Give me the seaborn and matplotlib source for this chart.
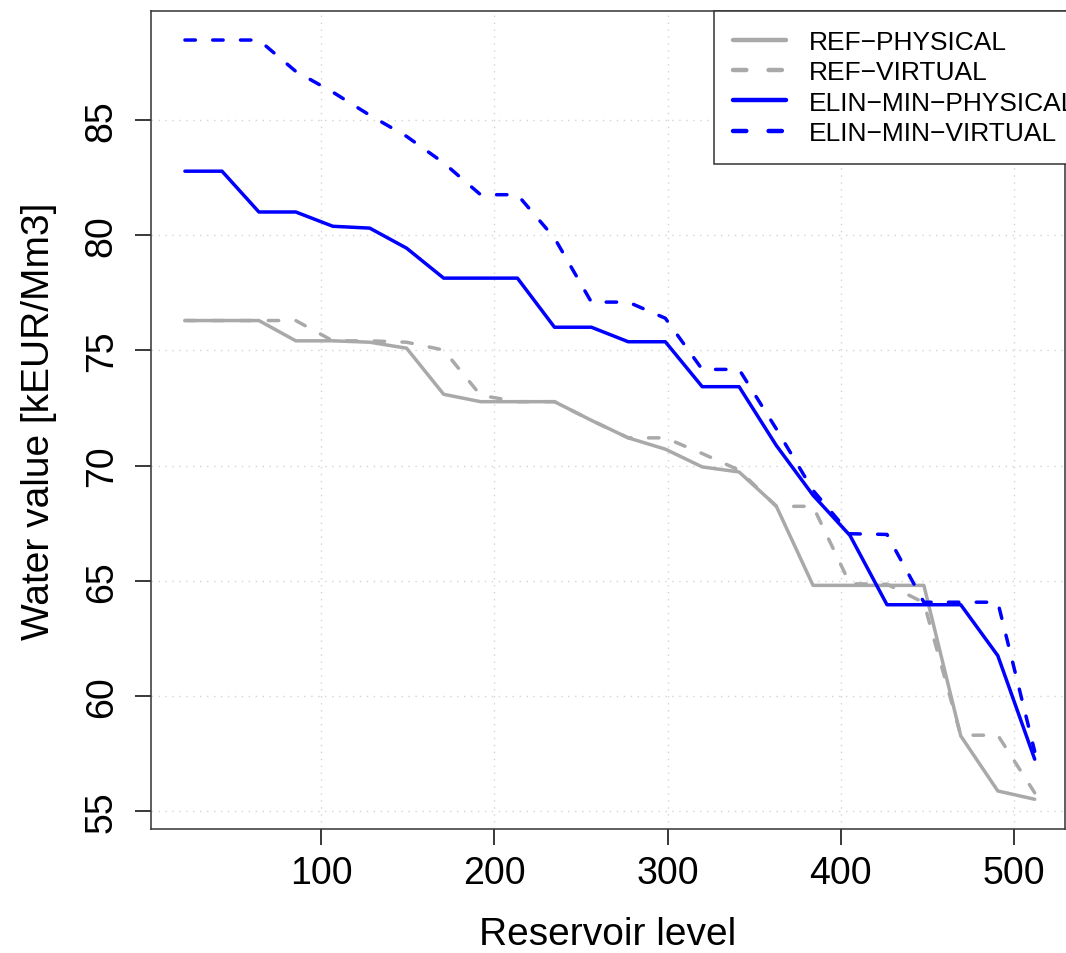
import pandas as pd
import numpy as np
import matplotlib
matplotlib.use("Agg")
import matplotlib.pyplot as plt
import seaborn as sns

## data ##
levels = [21.3, 42.7, 64.0, 85.3, 106.7, 128.0, 149.3, 170.7, 192.0, 213.3, 234.7, 256.0,
          277.3, 298.7, 320.0, 341.3, 362.7, 384.0, 405.3, 426.7, 448.0, 469.3, 490.7, 512.0]

ref_physical = [76.29, 76.29, 76.29, 75.41, 75.41, 75.35, 75.09, 73.09, 72.77, 72.77, 72.77, 71.96,
                71.20, 70.71, 69.94, 69.72, 68.25, 64.80, 64.80, 64.80, 64.80, 58.27, 55.88, 55.52]
ref_virtual = [76.29, 76.29, 76.29, 76.29, 75.41, 75.41, 75.35, 75.01, 73.05, 72.77, 72.77, 71.96,
               71.20, 71.20, 70.52, 69.80, 68.23, 68.23, 64.87, 64.85, 64.05, 58.30, 58.30, 55.80]
elin_physical = [82.77, 82.77, 81.00, 81.00, 80.38, 80.30, 79.43, 78.13, 78.13, 78.13, 76.00, 76.00,
                 75.37, 75.37, 73.42, 73.42, 70.88, 68.71, 66.97, 63.96, 63.96, 63.96, 61.75, 57.26]
elin_virtual = [88.46, 88.46, 88.46, 87.10, 86.20, 85.20, 84.28, 83.13, 81.75, 81.75, 79.87, 77.09,
                77.09, 76.39, 74.17, 74.17, 71.60, 68.92, 67.04, 67.01, 64.07, 64.07, 64.07, 57.60]

# R draws the hyphen as a minus sign
series_names = ["REF\u2212PHYSICAL", "REF\u2212VIRTUAL", "ELIN\u2212MIN\u2212PHYSICAL", "ELIN\u2212MIN\u2212VIRTUAL"]
series_values = [ref_physical, ref_virtual, elin_physical, elin_virtual]
series_colors = ["#A9A9A9", "#A9A9A9", "#0000FF", "#0000FF"]
series_dashed = [False, True, False, True]

x_ticks = [100, 200, 300, 400, 500]
y_ticks = [55, 60, 65, 70, 75, 80, 85]

sns.set_style("ticks")
plt.rcParams['font.family'] = ['Liberation Sans', 'DejaVu Sans']
plt.rcParams['text.color'] = 'black'
plt.rcParams['axes.labelcolor'] = 'black'
plt.rcParams['xtick.color'] = '#333333'
plt.rcParams['ytick.color'] = '#333333'
plt.rcParams['xtick.labelcolor'] = 'black'
plt.rcParams['ytick.labelcolor'] = 'black'
plt.rcParams['xtick.labelsize'] = 27
plt.rcParams['ytick.labelsize'] = 27
plt.rcParams['xtick.major.size'] = 11.5
plt.rcParams['ytick.major.size'] = 11.5
plt.rcParams['xtick.major.width'] = 1.1
plt.rcParams['ytick.major.width'] = 1.1
plt.rcParams['xtick.major.pad'] = 7
plt.rcParams['ytick.major.pad'] = 11
plt.rcParams['xtick.direction'] = 'out'
plt.rcParams['ytick.direction'] = 'out'
plt.rcParams['xtick.bottom'] = True
plt.rcParams['ytick.left'] = True
plt.rcParams['ytick.alignment'] = 'center'
plt.rcParams['axes.axisbelow'] = False

fig = plt.figure(figsize=(10.66, 9.54), dpi=100)
ax = fig.add_axes([151 / 1066, 124 / 954, 914 / 1066, 818 / 954])

## grid first so lines sit on top ##
for xv in x_ticks:
    ax.axvline(xv, color="#D3D3D3", lw=1, ls=(0, (1, 4)), zorder=0)
for yv in y_ticks:
    ax.axhline(yv, color="#D3D3D3", lw=1, ls=(0, (1, 4)), zorder=0)

for name, vals, col, dashed in zip(series_names, series_values, series_colors, series_dashed):
    df = pd.DataFrame({"level": levels, "value": vals})
    ls = (0, (3, 5)) if dashed else "-"
    sns.lineplot(data=df, x="level", y="value", ax=ax, color=col, lw=2.5,
                 linestyle=ls, label=name, dash_capstyle="round",
                 solid_capstyle="round", solid_joinstyle="round")

ax.set_xlim(1.7, 529.5)
ax.set_ylim(54.23, 89.72)
ax.set_xticks(x_ticks)
ax.set_yticks(y_ticks)
ax.tick_params(axis="y", labelrotation=90)

for sp in ax.spines.values():
    sp.set_visible(True)
    sp.set_color("#333333")
    sp.set_linewidth(1.1)

ax.set_xlabel("Reservoir level", fontsize=28, labelpad=18)
ax.set_ylabel("Water value [kEUR/Mm3]", fontsize=28, labelpad=19)

leg = ax.legend(loc="upper left", bbox_to_anchor=(0.616, 1.0), borderaxespad=0,
                fontsize=19, frameon=True, fancybox=False, handlelength=2.0,
                handletextpad=0.88, labelspacing=0.24, borderpad=0.72)
leg.get_frame().set_edgecolor("#333333")
leg.get_frame().set_linewidth(1.1)
leg.get_frame().set_alpha(1)
for h in leg.get_lines():
    h.set_linewidth(3.2)

## outward tick marks drawn explicitly (16 px long) so they always show ##
tick_x_len = 16 / 818
tick_y_len = 16 / 914
for xv in x_ticks:
    ax.plot([xv, xv], [0, -tick_x_len], transform=ax.get_xaxis_transform(),
            color="#333333", lw=1.1, clip_on=False, solid_capstyle="butt")
for yv in y_ticks:
    ax.plot([0, -tick_y_len], [yv, yv], transform=ax.get_yaxis_transform(),
            color="#333333", lw=1.1, clip_on=False, solid_capstyle="butt")

fig.savefig("out.png", dpi=100)
